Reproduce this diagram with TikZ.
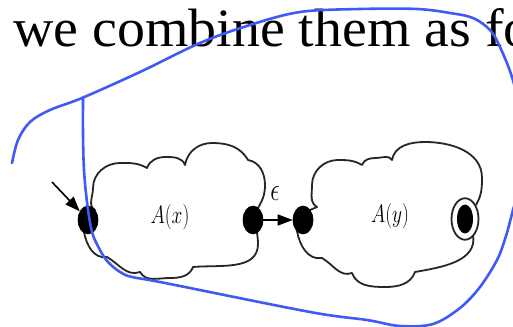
\documentclass[tikz,border=0pt]{standalone}
\usepackage{fontspec}
\setmainfont{Liberation Serif}
\usepackage{graphicx}
\usetikzlibrary{shapes.geometric,arrows.meta}
\definecolor{handblue}{RGB}{64,90,246}
\begin{document}
\begin{tikzpicture}[x=1pt,y=1pt,
  cl/.style={draw=black!85,line width=1.8pt,line join=round,line cap=round},
  state/.style={ellipse,fill=black,draw=black,line width=0.6pt,minimum width=20pt,minimum height=28pt,inner sep=0pt},
  ring/.style={ellipse,draw=black!85,line width=1.8pt,fill=white,minimum width=27pt,minimum height=41.5pt,inner sep=0pt},
  innerdot/.style={ellipse,fill=black,minimum width=16pt,minimum height=29pt,inner sep=0pt},
  arr/.style={-{Triangle[length=15pt,width=11pt]},line width=1.6pt},
  lbl/.style={inner sep=0pt,font=\fontsize{25}{30}\selectfont},
  hand/.style={draw=handblue,line width=2.6pt,line cap=round,line join=round}]
\useasboundingbox (0,0) rectangle (513,326);
\clip (0,0) rectangle (513,326);
\fill[white] (0,0) rectangle (513,326);

\node[anchor=base west,inner sep=0pt,font=\fontsize{54}{60}\selectfont] (txt) at (13,279) {\scalebox{1.035}[1]{we combine them as fo}};

% cloud 1
\draw[cl] (95,116) to[out=150,in=-90] (93,138) to[out=90,in=180] (120,163)
  to[out=0,in=150] (147,158) to[out=70,in=180] (166,169) to[out=0,in=110] (185,161)
  to[out=80,in=180] (212,183) to[out=0,in=120] (248,166)
  to[out=-10,in=90] (265,141) to[out=-90,in=60] (258,118);
\draw[cl] (257,94) to[out=-85,in=90] (258,82) to[out=-90,in=5] (193,59)
  to[out=-110,in=0] (170,48) to[out=180,in=-60] (140,54)
  to[out=-160,in=-30] (107,69) to[out=190,in=-80] (84,94);

% cloud 2
\draw[cl] (310,116) -- (317,119) to[out=150,in=-90] (312,141) to[out=90,in=180] (338,166)
  to[out=0,in=150] (362,161) to[out=70,in=180] (376,168) to[out=0,in=120] (392,166)
  to[out=80,in=180] (425,184) to[out=0,in=90] (482,148) to[out=-90,in=60] (476,121);
\draw[cl] (473,91) to[out=-80,in=10] (415,54) to[out=-110,in=0] (385,39)
  to[out=180,in=-70] (352,53) to[out=200,in=-30] (322,68) to[out=190,in=-80] (297,95);

% states
\node[state] (s1) at (88,106) {};
\node[state] (f1) at (253,106) {};
\node[state] (s2) at (303,106) {};
\node[ring] (f2) at (465,107) {};
\node[innerdot] (f2i) at (465,107) {};

% labels
\node[lbl] (ax) at (170,109) {\scalebox{0.78}[1.02]{$A(x)$}};
\node[lbl] (ay) at (390,110) {\scalebox{0.78}[1.02]{$A(y)$}};
\node[lbl] (eps) at (275,132) {\scalebox{0.95}[1.3]{$\epsilon$}};

% arrows
\coordinate (st) at (52,144);
\draw[arr] (st) -- (s1);
\draw[arr] (f1) -- (s2);

% hand-drawn blue loop
\draw[hand] plot[smooth,tension=0.55] coordinates {
  (12,163) (18,186) (30,204) (50,216) (82,228) (140,254) (200,283) (250,301)
  (300,314) (360,317) (417,317) (450,313) (473,308) (490,296) (500,279) (512,249)
  (520,215) (524,180) (521,145) (513,116) (506,90) (497,66) (480,39) (460,18)
  (433,2) (400,0) (367,6) (310,14) (165,43) (132,49) (120,54) (108,64) (100,76)
  (92,94) (87,124) (84,156) (83,191) (83,229)};
\end{tikzpicture}
\end{document}
